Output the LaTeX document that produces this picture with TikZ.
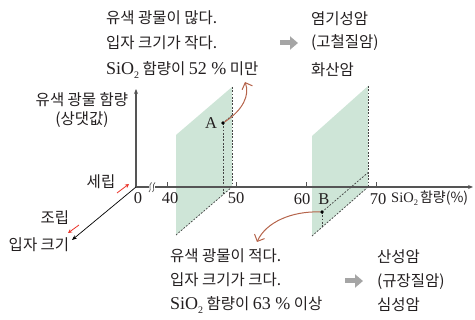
\documentclass[tikz,border=0pt]{standalone}
\usepackage{fontspec}
\setmainfont{Liberation Serif}
\newfontfamily\kr{Noto Sans CJK KR}
\newfontfamily\lat{Liberation Serif}
\usetikzlibrary{arrows.meta}
\definecolor{planegreen}{RGB}{206,229,215}
\definecolor{brownarr}{RGB}{181,100,75}
\definecolor{redarr}{RGB}{235,50,40}
\definecolor{axisgray}{RGB}{85,85,85}
\definecolor{txt}{RGB}{35,31,32}
\definecolor{blockgray}{RGB}{165,165,165}
\newcommand\ksz{\kr\fontsize{15.5}{17}\selectfont}
\newcommand\lsz{\lat\fontsize{18}{20}\selectfont}
\newcommand\tsz{\lat\fontsize{16.5}{18}\selectfont}
\newcommand\subtwo{\raisebox{-0.18em}{\fontsize{10}{11}\selectfont 2}}
\begin{document}
\begin{tikzpicture}[x=1pt,y=-1pt,
  krtext/.style={font=\ksz, text=txt, inner sep=0pt, anchor=west},
  ctext/.style={font=\ksz, text=txt, inner sep=0pt},
  ticklab/.style={font=\tsz, text=txt, inner sep=0pt},
  axisline/.style={draw=axisgray, line width=1.1pt},
  dashline/.style={draw=axisgray!80!black, line width=0.75pt, dash pattern=on 1.8pt off 1.5pt},
  brownarrow/.style={draw=brownarr, line width=1pt, -{Straight Barb[length=5.5pt,width=11pt]}},
  redarrow/.style={draw=redarr, line width=0.8pt, -{Stealth[length=4pt,width=4pt]}},
  blockarrow/.style={draw=blockgray, line width=5pt, -{Triangle[length=8pt,width=13pt]}},
  dotnode/.style={circle, fill=black, inner sep=0pt, minimum size=3.6pt}]
\useasboundingbox (0,0) rectangle (475,320);

% planes
\fill[planegreen] (176,235) -- (232,187) -- (232,87) -- (176,135) -- cycle;
\fill[planegreen] (312,236) -- (368,187) -- (368,86) -- (312,136) -- cycle;

% coordinates
\coordinate (p1br) at (232,187);
\coordinate (p1tr) at (232,87);
\coordinate (p1bl) at (176,235);
\coordinate (Aback) at (232,115.3);
\coordinate (Abot) at (223,194.7);
\coordinate (p2br) at (368,187);
\coordinate (p2tr) at (368,86);
\coordinate (p2bl) at (312,236);
\coordinate (Bback) at (368,172.6);
\coordinate (Bbot) at (322,227.3);

% dashed lines
\draw[dashline] (p1tr) -- (p1br);
\draw[dashline] (p1bl) -- (p1br);
\draw[dashline] (223,123) -- (Aback);
\draw[dashline] (223,123) -- (Abot);
\draw[dashline] (p2tr) -- (p2br);
\draw[dashline] (p2bl) -- (p2br);
\draw[dashline] (322,212) -- (Bback);
\draw[dashline] (322,212) -- (Bbot);

% axes
\coordinate (O) at (136,187);
\coordinate (ytip) at (136,89);
\coordinate (xtip) at (473,187);
\coordinate (ztip) at (72,240);
\draw[axisline, -{Stealth[length=5pt,width=4pt]}] (O) -- (ytip);
\draw[axisline, -{Stealth[length=5pt,width=4pt]}] (O) -- (xtip);
\draw[draw=black, line width=0.7pt, -{Stealth[length=5pt,width=4pt]}] (O) -- (ztip);

% axis break
\fill[white] (149.3,184) rectangle (155.3,190);
\draw[axisgray, line width=0.7pt] (149,192) .. controls (152,189.5) and (148,185) .. (151.5,182.5);
\draw[axisgray, line width=0.7pt] (152.5,192) .. controls (155.5,189.5) and (151.5,185) .. (155,182.5);

% ticks
\foreach \tx in {167,236,306,376} \draw[axisgray, line width=0.9pt] (\tx,187) -- (\tx,182.5);

% tick labels
\node[ticklab] (t0) at (138,198) {0};
\node[ticklab] (t40) at (170,198) {40};
\node[ticklab] (t50) at (236,198) {50};
\node[ticklab] (t60) at (302,199) {60};
\node[ticklab] (t70) at (378,199) {70};
\node[anchor=west, inner sep=0pt, text=txt] (xlab) at (391,198) {{\lat\fontsize{14.5}{16}\selectfont SiO\raisebox{-0.18em}{\fontsize{8.5}{9}\selectfont 2}}\hspace{2pt}{\kr\fontsize{14}{15}\selectfont 함량(\%)}};

% points
\node[dotnode] (A) at (223,123) {};
\node[dotnode] (B) at (322,212) {};
\node[ticklab] (Alab) at (211,123) {A};
\node[ticklab] (Blab) at (324,199) {B};

% axis labels
\node[ctext] (ylab1) at (82,100) {유색 광물 함량};
\node[ctext] (ylab2) at (82,120) {(상댓값)};
\node[ctext] (fine) at (101,182) {세립};
\node[ctext] (coarse) at (55,218) {조립};
\node[ctext] (zlab) at (39,245) {입자 크기};

% red arrows
\coordinate (r1s) at (117,193);
\coordinate (r1e) at (129,184);
\coordinate (r2s) at (79,225);
\coordinate (r2e) at (68,233);
\draw[redarrow] (r1s) -- (r1e);
\draw[redarrow] (r2s) -- (r2e);

% brown arrows
\coordinate (arrTop) at (245,82);
\coordinate (arrBot) at (257,242);
\draw[brownarrow] (A) .. controls (243,110) and (250,95) .. (arrTop);
\draw[brownarrow] (B) .. controls (292,211) and (266,222) .. (arrBot);

% top texts
\node[krtext] (tl1) at (106,17.5) {유색 광물이 많다.};
\node[krtext] (tl2) at (106,43) {입자 크기가 작다.};
\node[krtext] (tl3) at (106,70) {{\lsz SiO\subtwo} 함량이 {\lsz 52 \%} 미만};
\node[krtext] (tr1) at (311,18.5) {염기성암};
\node[krtext] (tr2) at (311,43) {(고철질암)};
\node[krtext] (tr3) at (311,70) {화산암};
\coordinate (ga1) at (280,43);
\coordinate (ga2) at (298,43);
\draw[blockarrow] (ga1) -- (ga2);

% bottom texts
\node[krtext] (bl1) at (170,256) {유색 광물이 적다.};
\node[krtext] (bl2) at (170,280) {입자 크기가 크다.};
\node[krtext] (bl3) at (170,305) {{\lsz SiO\subtwo} 함량이 {\lsz 63 \%} 이상};
\node[krtext] (br1) at (377,257) {산성암};
\node[krtext] (br2) at (377,282) {(규장질암)};
\node[krtext] (br3) at (377,305) {심성암};
\coordinate (gb1) at (345,281);
\coordinate (gb2) at (363,281);
\draw[blockarrow] (gb1) -- (gb2);
\end{tikzpicture}
\end{document}
